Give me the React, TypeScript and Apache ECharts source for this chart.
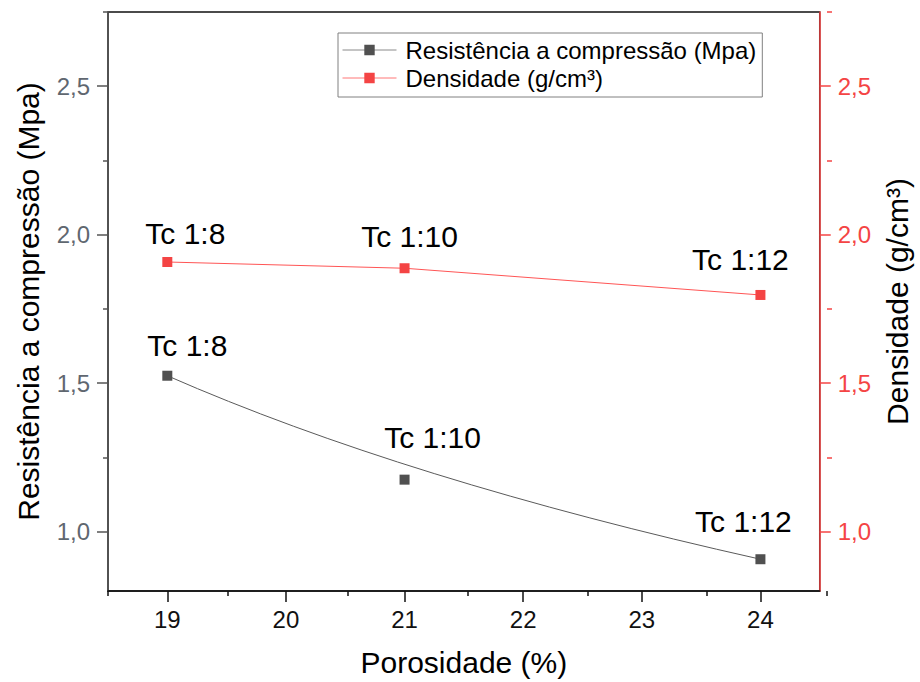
import React, { useEffect, useRef } from 'react';
import * as echarts from 'echarts';

// ---- data ----
const porosidade = [19, 21, 24];
const resistencia = [1.525, 1.175, 0.907];
const densidade = [1.908, 1.887, 1.797];
const pointLabels = ['Tc 1:8', 'Tc 1:10', 'Tc 1:12'];
const xMajorTicks = [19, 20, 21, 22, 23, 24];
const xMinorTicks = [18.5, 19.5, 20.5, 21.5, 22.5, 23.5, 24.5];
const yMajorTicks = [1.0, 1.5, 2.0, 2.5];
const yMinorTicks = [1.25, 1.75, 2.25, 2.75];

const resName = 'Resistência a compressão (Mpa)';
const denName = 'Densidade (g/cm³)';

// ---- label placement (style, not data) ----
const resLabelOffsets = [[20, -10], [28, -22], [-17, -18]];
const denLabelOffsets = [[18, -9], [5, -12], [-20, -15]];

const FONT = '"Liberation Sans", Arial, sans-serif';
const RED = '#f44444';
const GRAY_AXIS = '#555555';

const GRID = { left: 108, right: 93, top: 12, bottom: 91 };

const comma = (v: number) => v.toFixed(1).replace('.', ',');

export default function App() {
  const ref = useRef<HTMLDivElement>(null);

  useEffect(() => {
    if (!ref.current) return;
    document.body.style.margin = '0';
    document.body.style.overflow = 'hidden';
    const chart = echarts.init(ref.current, null, { renderer: 'svg', width: 920, height: 682 });

    const labelStyle = { fontSize: 30, color: '#000', fontFamily: FONT };

    const option: any = {
      animation: false,
      backgroundColor: '#ffffff',
      textStyle: { fontFamily: FONT },
      grid: [
        { ...GRID, show: true, borderColor: '#111', borderWidth: 1.5, backgroundColor: 'transparent', containLabel: false },
        { ...GRID, show: false, containLabel: false },
      ],
      legend: {
        orient: 'vertical',
        left: 338,
        top: 33,
        padding: [5, 6, 7, 4],
        itemGap: 4,
        itemWidth: 54,
        itemHeight: 13,
        borderColor: '#808080',
        borderWidth: 1,
        textStyle: { fontSize: 24, color: '#000', fontFamily: FONT, padding: [0, 0, 0, 4] },
        data: [
          { name: resName, itemStyle: { color: '#505050' }, lineStyle: { color: '#8a8a8a', width: 1, opacity: 1 } },
          { name: denName, itemStyle: { color: RED }, lineStyle: { color: '#f77', width: 1, opacity: 1 } },
        ],
      },
      xAxis: [
        {
          gridIndex: 0,
          type: 'value',
          min: 18.5,
          max: 24.5,
          name: 'Porosidade (%)',
          nameLocation: 'middle',
          nameGap: 56,
          nameTextStyle: { fontSize: 30, color: '#000', fontFamily: FONT },
          axisLine: { show: true, lineStyle: { color: '#111', width: 1.5 } },
          axisTick: { show: true, customValues: xMajorTicks, length: 11, lineStyle: { color: '#111', width: 1.5 } },
          axisLabel: { customValues: xMajorTicks, fontSize: 24, color: '#111', margin: 16, fontFamily: FONT },
          splitLine: { show: false },
        },
        {
          gridIndex: 1,
          type: 'value',
          min: 18.5,
          max: 24.5,
          axisLine: { show: false },
          axisTick: { show: true, customValues: xMinorTicks, length: 5, lineStyle: { color: '#111', width: 1.5 } },
          axisLabel: { show: false },
          splitLine: { show: false },
        },
      ],
      yAxis: [
        {
          gridIndex: 0,
          type: 'value',
          position: 'left',
          min: 0.8,
          max: 2.75,
          name: resName,
          nameLocation: 'middle',
          nameRotate: 90,
          nameGap: 65,
          nameTextStyle: { fontSize: 30, color: '#000', fontFamily: FONT },
          axisLine: { show: true, lineStyle: { color: GRAY_AXIS, width: 1.5 } },
          axisTick: { show: true, customValues: yMajorTicks, length: 11, lineStyle: { color: GRAY_AXIS, width: 1.5 } },
          axisLabel: { customValues: yMajorTicks, formatter: comma, fontSize: 24, color: '#5f6770', margin: 18, fontFamily: FONT },
          splitLine: { show: false },
        },
        {
          gridIndex: 0,
          type: 'value',
          position: 'right',
          min: 0.8,
          max: 2.75,
          name: denName,
          nameLocation: 'middle',
          nameRotate: 90,
          nameGap: 58,
          nameTextStyle: { fontSize: 30, color: '#000', fontFamily: FONT },
          axisLine: { show: true, lineStyle: { color: RED, width: 1.5 } },
          axisTick: { show: true, customValues: yMajorTicks, length: 11, lineStyle: { color: RED, width: 1.5 } },
          axisLabel: { customValues: yMajorTicks, formatter: comma, fontSize: 24, color: RED, margin: 18, fontFamily: FONT },
          splitLine: { show: false },
        },
        {
          gridIndex: 1,
          type: 'value',
          position: 'left',
          min: 0.8,
          max: 2.75,
          axisLine: { show: false },
          axisTick: { show: true, customValues: yMinorTicks, length: 5, lineStyle: { color: GRAY_AXIS, width: 1.5 } },
          axisLabel: { show: false },
          splitLine: { show: false },
        },
        {
          gridIndex: 1,
          type: 'value',
          position: 'right',
          min: 0.8,
          max: 2.75,
          axisLine: { show: false },
          axisTick: { show: true, customValues: yMinorTicks, length: 5, lineStyle: { color: RED, width: 1.5 } },
          axisLabel: { show: false },
          splitLine: { show: false },
        },
      ],
      series: [
        {
          // B-spline (quadratic, control points = data points) for resistência
          name: 'resCurve',
          type: 'custom',
          xAxisIndex: 0,
          yAxisIndex: 0,
          silent: true,
          z: 1,
          data: [[porosidade[0], resistencia[0]]],
          renderItem: (params: any, api: any) => {
            if (params.dataIndex !== 0) return null;
            const p = porosidade.map((x, i) => api.coord([x, resistencia[i]]));
            return {
              type: 'bezierCurve',
              shape: { x1: p[0][0], y1: p[0][1], cpx1: p[1][0], cpy1: p[1][1], x2: p[2][0], y2: p[2][1] },
              style: { stroke: '#5a5a5a', lineWidth: 1, fill: 'none' },
            };
          },
        },
        {
          name: resName,
          type: 'line',
          xAxisIndex: 0,
          yAxisIndex: 0,
          z: 3,
          symbol: 'rect',
          symbolSize: 10,
          itemStyle: { color: '#505050' },
          lineStyle: { opacity: 0, width: 0 },
          label: {
            show: true,
            position: 'top',
            distance: 0,
            ...labelStyle,
            formatter: (p: any) => pointLabels[p.dataIndex],
          },
          data: porosidade.map((x, i) => ({
            value: [x, resistencia[i]],
            label: { offset: resLabelOffsets[i] },
          })),
        },
        {
          name: denName,
          type: 'line',
          xAxisIndex: 0,
          yAxisIndex: 1,
          z: 3,
          symbol: 'rect',
          symbolSize: 10,
          itemStyle: { color: RED },
          lineStyle: { color: '#f55', width: 1 },
          label: {
            show: true,
            position: 'top',
            distance: 0,
            ...labelStyle,
            formatter: (p: any) => pointLabels[p.dataIndex],
          },
          data: porosidade.map((x, i) => ({
            value: [x, densidade[i]],
            label: { offset: denLabelOffsets[i] },
          })),
        },
      ],
    };

    chart.setOption(option);
    return () => chart.dispose();
  }, []);

  return (
    <div
      ref={ref}
      style={{ position: 'fixed', left: 0, top: 0, width: 920, height: 682, background: '#fff' }}
    />
  );
}
